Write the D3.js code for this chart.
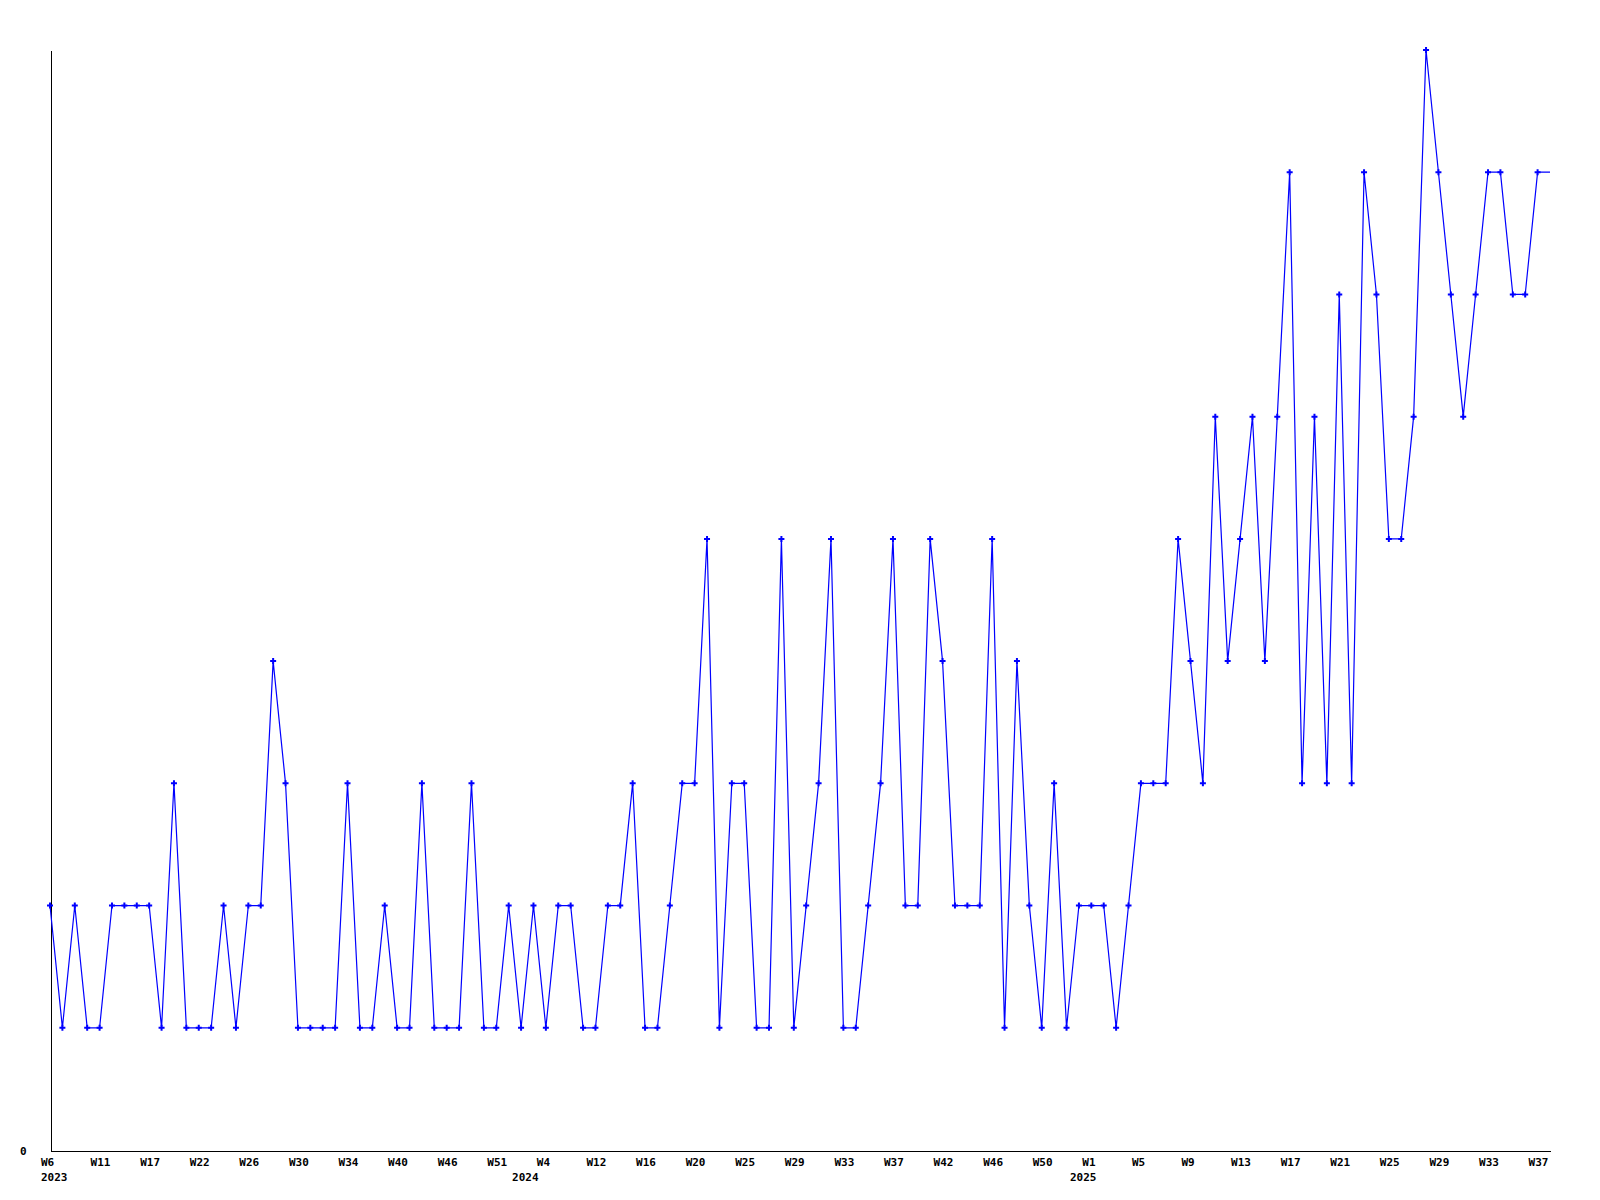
<!DOCTYPE html>
<html>
<head>
<meta charset="utf-8">
<script src="https://cdn.jsdelivr.net/npm/d3@7"></script>
<style>
  body { margin: 0; background: #fff; }
  svg { display: block; }
  .axis text { font-family: "DejaVu Sans Mono", monospace; font-weight: bold; font-size: 11px; fill: #000; }
  .axis path { stroke: #000; shape-rendering: crispEdges; }
</style>
</head>
<body>
<div id="chart"></div>
<script>
"use strict";

// weekly counts, one entry per point on the chart
let values = [
  2, 1, 2, 1, 1, 2, 2, 2, 2, 1,
  3, 1, 1, 1, 2, 1, 2, 2, 4, 3,
  1, 1, 1, 1, 3, 1, 1, 2, 1, 1,
  3, 1, 1, 1, 3, 1, 1, 2, 1, 2,
  1, 2, 2, 1, 1, 2, 2, 3, 1, 1,
  2, 3, 3, 5, 1, 3, 3, 1, 1, 5,
  1, 2, 3, 5, 1, 1, 2, 3, 5, 2,
  2, 5, 4, 2, 2, 2, 5, 1, 4, 2,
  1, 3, 1, 2, 2, 2, 1, 2, 3, 3,
  3, 5, 4, 3, 6, 4, 5, 6, 4, 6,
  8, 3, 6, 3, 7, 3, 8, 7, 5, 5,
  6, 9, 8, 7, 6, 7, 8, 8, 7, 7,
  8
];

// one label every 4th point
let tickLabels = [
  "W6", "W11", "W17", "W22", "W26", "W30", "W34", "W40", "W46", "W51",
  "W4", "W12", "W16", "W20", "W25", "W29", "W33", "W37", "W42", "W46", "W50",
  "W1", "W5", "W9", "W13", "W17", "W21", "W25", "W29", "W33", "W37"
];
let tickStep = 4;

let yearIndex = [0, 38, 83];
let yearNames = ["2023", "2024", "2025"];

let yTicks = [0];
let yMax = 9;

let width = 1600;
let height = 1200;
let margin = { top: 50, bottom: 50, left: 50, right: 49 };

let svg = d3.select("#chart")
  .append("svg")
  .attr("width", width)
  .attr("height", height);

let xScale = d3.scaleLinear()
  .domain([0, values.length])
  .range([margin.left, width - margin.right - 1]);

let yScale = d3.scaleLinear()
  .domain([0, yMax])
  .range([height - margin.bottom, margin.top]);

let xAxis = d3.axisBottom(xScale)
  .tickValues(d3.range(0, values.length, tickStep))
  .tickFormat((d, i) => tickLabels[i])
  .tickSize(0)
  .tickSizeOuter(0);

let xAxisG = svg.append("g")
  .attr("class", "axis")
  .attr("transform", "translate(0.5," + (height - margin.bottom + 0.5) + ")")
  .call(xAxis);

xAxisG.selectAll("text")
  .attr("text-anchor", "start")
  .attr("x", -10)
  .attr("y", 15)
  .attr("dy", 0);

// year row under the week labels
let yearAxis = d3.axisBottom(xScale)
  .tickValues(yearIndex)
  .tickFormat((d, i) => yearNames[i])
  .tickSize(0);

let yearG = svg.append("g")
  .attr("class", "axis")
  .attr("transform", "translate(0.5," + (height - margin.bottom + 0.5) + ")")
  .call(yearAxis);

yearG.select(".domain").remove();
yearG.selectAll("text")
  .attr("text-anchor", "start")
  .attr("x", -10)
  .attr("y", 30)
  .attr("dy", 0);

let yAxis = d3.axisLeft(yScale)
  .tickValues(yTicks)
  .tickSize(0)
  .tickSizeOuter(0);

let yAxisG = svg.append("g")
  .attr("class", "axis")
  .attr("transform", "translate(" + (margin.left + 0.5) + ",0.5)")
  .call(yAxis);

yAxisG.selectAll("text")
  .attr("text-anchor", "end")
  .attr("x", -24);

// line runs on to the right edge at the last value
let linePoints = values.map((v, i) => [i, v]);
linePoints.push([values.length, values[values.length - 1]]);

let line = d3.line()
  .x(d => xScale(d[0]))
  .y(d => yScale(d[1]));

svg.append("path")
  .datum(linePoints)
  .attr("d", line)
  .attr("fill", "none")
  .attr("stroke", "#0000ff")
  .attr("stroke-width", 1.2);

svg.append("g")
  .selectAll("path")
  .data(values)
  .enter().append("path")
  .attr("transform", (d, i) => "translate(" + xScale(i) + "," + yScale(d) + ")")
  .attr("d", d3.symbol().type(d3.symbolCross).size(20))
  .attr("fill", "#0000ff");
</script>
</body>
</html>
